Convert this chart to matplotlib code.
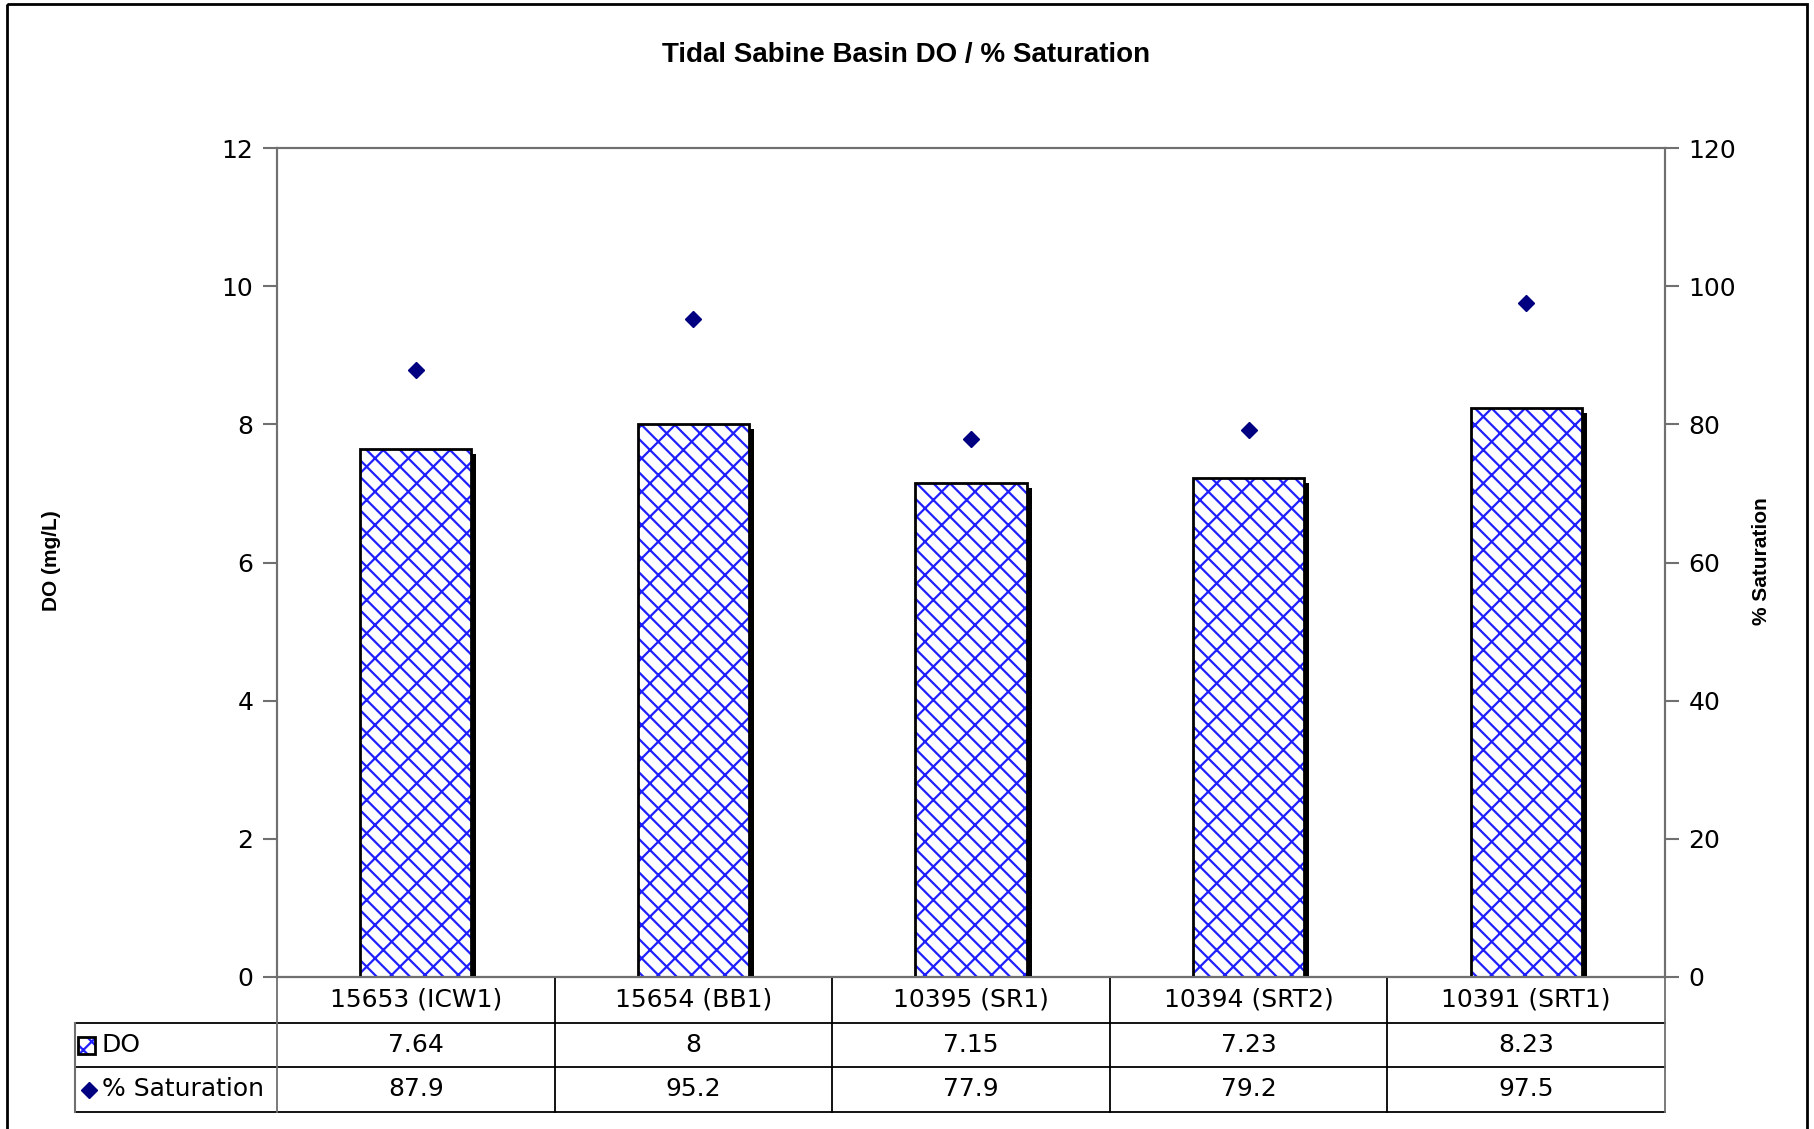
import numpy as np
import matplotlib.pyplot as plt
import matplotlib.transforms as mtransforms
from matplotlib.patches import Rectangle

# chart data
stations = ['15653 (ICW1)', '15654 (BB1)', '10395 (SR1)', '10394 (SRT2)', '10391 (SRT1)']
do_vals = [7.64, 8, 7.15, 7.23, 8.23]
sat_vals = [87.9, 95.2, 77.9, 79.2, 97.5]
do_labels = ['7.64', '8', '7.15', '7.23', '8.23']
sat_labels = ['87.9', '95.2', '77.9', '79.2', '97.5']

W, H = 1815, 1129
plt.rcParams['font.family'] = ['DejaVu Sans']
plt.rcParams['hatch.linewidth'] = 1.6
narrow = ['Liberation Sans Narrow', 'Liberation Sans', 'DejaVu Sans']
fs = 18

fig = plt.figure(figsize=(W / 100, H / 100), dpi=100)

# plot area in pixels
L, R, T, B = 277, 1665, 148, 977
ax = fig.add_axes([L / W, 1 - B / H, (R - L) / W, (B - T) / H])
ax2 = ax.twinx()

x = np.arange(len(stations))
bw = 0.40
shadow = ax.transData + mtransforms.ScaledTranslation(0.05, -0.05, fig.dpi_scale_trans)
ax.bar(x, do_vals, bw, color='black', transform=shadow, zorder=1, clip_on=True)
ax.bar(x, do_vals, bw, color='white', edgecolor='#2020ff', hatch='x\\', linewidth=0, zorder=2)
ax.bar(x, do_vals, bw, fill=False, edgecolor='black', linewidth=2, zorder=3)

ax2.plot(x, sat_vals, linestyle='none', marker='D', markersize=8, color='#000080', zorder=4)

ax.set_xlim(-0.5, len(stations) - 0.5)
ax.set_ylim(0, 12)
ax.set_yticks(range(0, 13, 2))
ax2.set_ylim(0, 120)
ax2.set_yticks(range(0, 121, 20))
ax.set_xticks([])
for a in (ax, ax2):
    for s in a.spines.values():
        s.set_color('#707070')
        s.set_linewidth(1.5)
    a.tick_params(axis='y', direction='out', length=10, width=1.5, color='#707070',
                  labelsize=fs, pad=7)
ax.spines['bottom'].set_color('black')

fig.text(906 / W, 1 - 55 / H, 'Tidal Sabine Basin DO / % Saturation', family=narrow,
         fontweight='bold', fontsize=20, ha='center', va='center')
fig.text(52 / W, 1 - 561 / H, 'DO (mg/L)', family=narrow, fontweight='bold', fontsize=15,
         rotation=90, ha='center', va='center')
fig.text(1762 / W, 1 - 561 / H, '% Saturation', family=narrow, fontweight='bold', fontsize=15,
         rotation=90, ha='center', va='center')

# data table below the plot, drawn in pixel space
tb = fig.add_axes([0, 0, 1, 1], zorder=-1)
tb.set_xlim(0, W)
tb.set_ylim(H, 0)
tb.axis('off')
tb.add_patch(Rectangle((7, 4), 1800, 1200, fill=False, edgecolor='black', linewidth=2))

rows = [977, 1023, 1067, 1112]
tl = 75
cw = (R - L) / len(stations)
for y in rows[1:]:
    tb.plot([tl, R], [y, y], color='black', lw=1.3)
tb.plot([tl, tl], [rows[1], rows[3]], color='#707070', lw=1.5)
for i in range(len(stations) + 1):
    tb.plot([L + i * cw] * 2, [rows[0], rows[3]], color='#707070' if i in (0, len(stations)) else 'black', lw=1.3)
for i, (s, d, p) in enumerate(zip(stations, do_labels, sat_labels)):
    cx = L + (i + 0.5) * cw
    tb.text(cx, (rows[0] + rows[1]) / 2, s, fontsize=fs, ha='center', va='center')
    tb.text(cx, (rows[1] + rows[2]) / 2, d, fontsize=fs, ha='center', va='center')
    tb.text(cx, (rows[2] + rows[3]) / 2, p, fontsize=fs, ha='center', va='center')

# legend keys inside the table
tb.add_patch(Rectangle((78, 1037), 17, 17, facecolor='white', edgecolor='#2020ff', hatch='x\\', lw=0))
tb.add_patch(Rectangle((78, 1037), 17, 17, fill=False, edgecolor='black', lw=2))
tb.text(102, (rows[1] + rows[2]) / 2, 'DO', fontsize=fs, ha='left', va='center')
tb.plot([89], [(rows[2] + rows[3]) / 2], marker='D', markersize=8, color='#000080')
tb.text(102, (rows[2] + rows[3]) / 2, '% Saturation', fontsize=fs, ha='left', va='center')

fig.savefig('out.png', dpi=100)
